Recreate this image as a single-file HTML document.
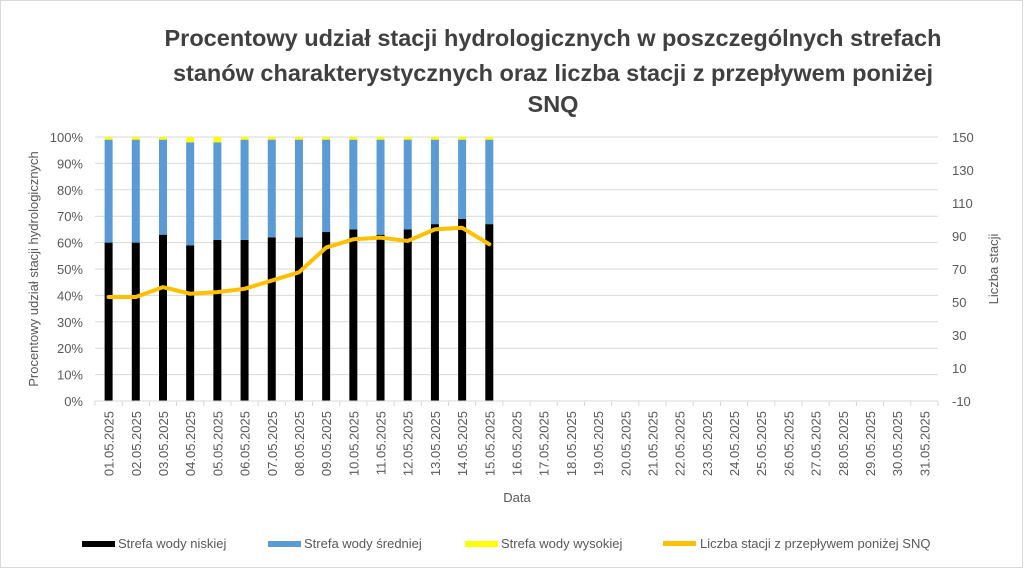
<!DOCTYPE html>
<html><head><meta charset="utf-8"><style>
body{margin:0;background:#fff}
svg text{font-family:"Liberation Sans",sans-serif}
</style></head><body>
<svg width="1024" height="569" viewBox="0 0 1024 569" xmlns="http://www.w3.org/2000/svg">
<rect x="0.5" y="0.5" width="1022" height="567" fill="#fff" stroke="#d9d9d9"/>
<g font-weight="bold" font-size="23.5" fill="#404040" text-anchor="middle">
<text x="553" y="46">Procentowy udział stacji hydrologicznych w poszczególnych strefach</text>
<text x="553" y="81">stanów charakterystycznych oraz liczba stacji z przepływem poniżej</text>
<text x="553" y="112">SNQ</text>
</g>
<g id="grid"></g><g id="bars"></g><g id="line"></g><g id="axes"></g>
<text x="38" y="269" transform="rotate(-90 38 269)" text-anchor="middle" font-size="13" fill="#595959">Procentowy udział stacji hydrologicznych</text>
<text x="998" y="269" transform="rotate(-90 998 269)" text-anchor="middle" font-size="13" fill="#595959">Liczba stacji</text>
<text x="517" y="502" text-anchor="middle" font-size="13" fill="#595959">Data</text>
<g font-size="13" fill="#595959">
<g><rect x="82" y="541" width="33" height="6" fill="#000"/><text x="118" y="548">Strefa wody niskiej</text></g>
<g><rect x="268" y="541" width="33" height="6" fill="#5b9bd5"/><text x="304" y="548">Strefa wody średniej</text></g>
<g><rect x="465" y="541" width="33" height="6" fill="#ffff00"/><text x="501" y="548">Strefa wody wysokiej</text></g>
<g><rect x="663" y="541" width="33" height="5" fill="#ffc000"/><text x="700" y="548">Liczba stacji z przepływem poniżej SNQ</text></g>
</g>
</svg>
<script>
const categories=[];for(let d=1;d<=31;d++)categories.push(String(d).padStart(2,'0')+'.05.2025');
const lowPct=[60,60,63,59,61,61,62,62,64,65,63,65,67,69,67];
const midPct=[39,39,36,39,37,38,37,37,35,34,36,34,32,30,32];
const highPct=[1,1,1,2,2,1,1,1,1,1,1,1,1,1,1];
const snqCount=[53,53,59,55,56,58,63,68,83,88,89,87,94,95,85];
const leftTicks=[0,10,20,30,40,50,60,70,80,90,100];
const rightTicks=[-10,10,30,50,70,90,110,130,150];
const NS='http://www.w3.org/2000/svg';
const L=95,R=938,T=137,B=401;
const step=(R-L)/categories.length;
const xc=i=>L+step*(i+0.5);
const yP=v=>B-(B-T)*v/100;
const yR=v=>B-(B-T)*(v+10)/160;
function mk(p,t,a){const e=document.createElementNS(NS,t);for(const k in a)e.setAttribute(k,a[k]);p.appendChild(e);return e;}
const grid=document.getElementById('grid'),bars=document.getElementById('bars'),line=document.getElementById('line'),axes=document.getElementById('axes');
leftTicks.forEach(v=>{
 if(v>0){const g=mk(grid,'line',{x1:L,x2:R,y1:yP(v),y2:yP(v),stroke:'#d9d9d9'});
 
 }
 const t=mk(axes,'text',{x:L-12,y:yP(v)+5,'text-anchor':'end','font-size':13,fill:'#595959'});t.textContent=v+'%';
 
 
});
rightTicks.forEach(v=>{
 const t=mk(axes,'text',{x:R+14,y:yR(v)+5,'font-size':13,fill:'#595959'});t.textContent=v;
 
 
});
const ax=mk(axes,'line',{x1:L,x2:R,y1:B,y2:B,stroke:'#d9d9d9'});


for(let i=0;i<=categories.length;i++){
 const tk=mk(axes,'line',{x1:L+step*i,x2:L+step*i,y1:B,y2:B+5,stroke:'#d9d9d9'});
 
 
}
categories.forEach((c,i)=>{
 const x=xc(i)+5,y=B+10;
 const t=mk(axes,'text',{x:x,y:y,transform:`rotate(-90 ${x} ${y})`,'text-anchor':'end','font-size':13,fill:'#595959'});t.textContent=c;
 
 
});
const bw=8;
lowPct.forEach((v,i)=>{
 let base=0;
 [[lowPct[i],'#000','bar-low'],[midPct[i],'#5b9bd5','bar-mid'],[highPct[i],'#ffff00','bar-high']].forEach(([val,col,nm])=>{
  const r=mk(bars,'rect',{x:xc(i)-bw/2,y:yP(base+val),width:bw,height:yP(base)-yP(base+val),fill:col});
  
  
  base+=val;
 });
});
const pl=mk(line,'polyline',{points:snqCount.map((v,i)=>xc(i)+','+yR(v)).join(' '),fill:'none',stroke:'#ffc000','stroke-width':4,'stroke-linejoin':'round','stroke-linecap':'round'});


</script>
</body></html>
